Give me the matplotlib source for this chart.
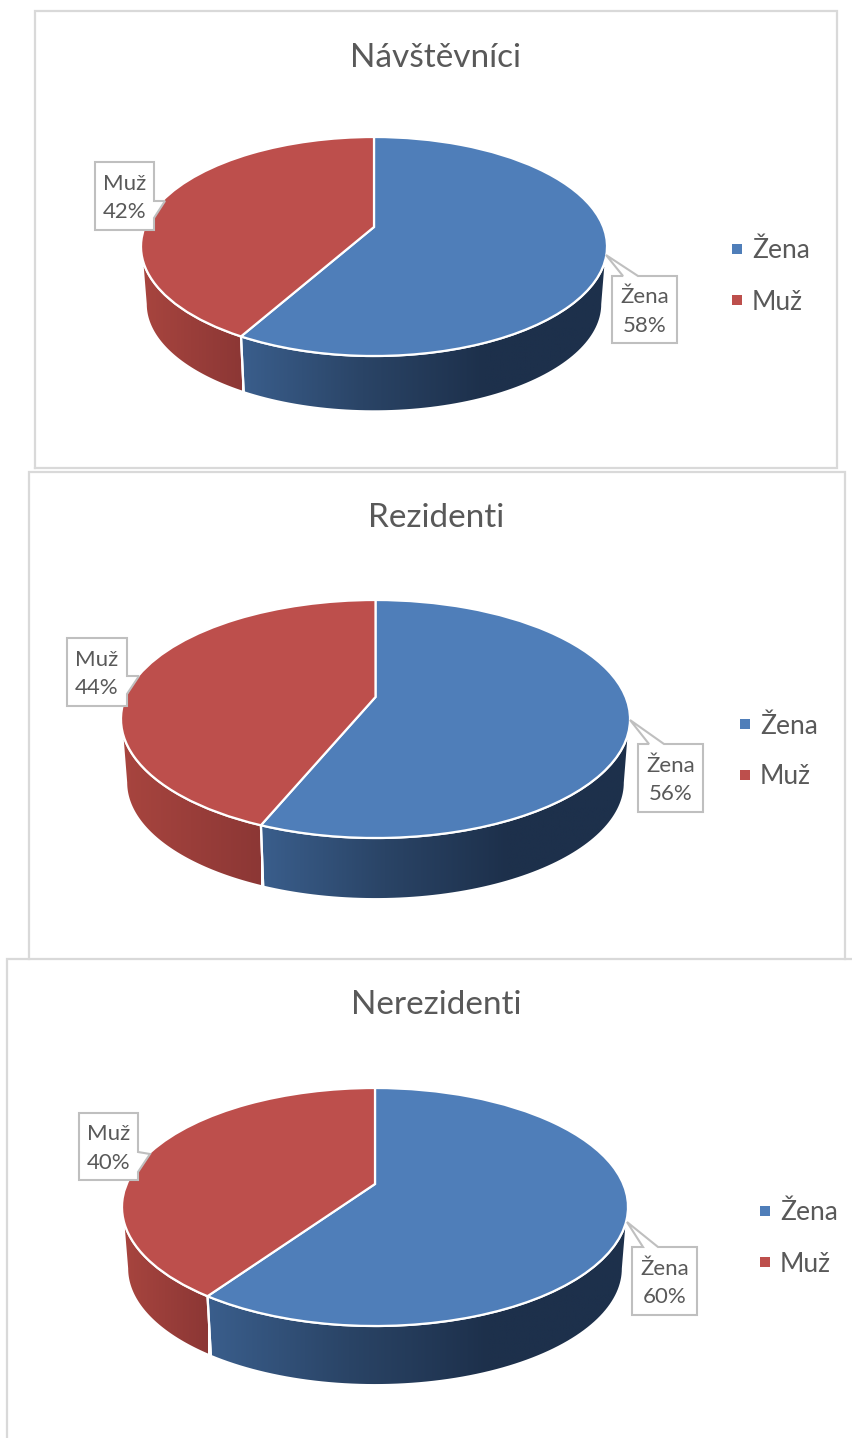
import numpy as np
import matplotlib
matplotlib.use('Agg')
import matplotlib.pyplot as plt
from matplotlib.colors import LinearSegmentedColormap
from matplotlib.patches import Polygon
from matplotlib.transforms import Transform

plt.rcParams['font.family'] = ['Lato', 'DejaVu Sans']

titles = ['Návštěvníci', 'Rezidenti', 'Nerezidenti']
categories = ['Žena', 'Muž']
# labels only show whole percents, the slice edges say a bit more
zena_shares = [58.15, 56.2, 59.6]
muz_shares = [41.85, 43.8, 40.4]

TEXT = '#595959'
FRAME = '#d9d9d9'
BLUE = '#4f7eb9'
RED = '#bd4f4c'

blue_side = LinearSegmentedColormap.from_list('blue_side', ['#3a5e8c', '#2a4466', '#1d304b', '#1d304b'])
red_side = LinearSegmentedColormap.from_list('red_side', ['#a8453f', '#8c3735'])

# layout of each chart, in pixels of the picture
layouts = [
	dict(cx=374, hub=227, top=137, bottom=356, half=233, wall=58, scale=0.98,
		title=(436, 58), legend=(737, 249, 300),
		muz_box=(95, 162, 154, 230), muz_tip=[(154, 201), (165, 201), (154, 218)],
		zena_box=(612, 276, 677, 343), zena_tip=[(623, 276), (606, 255), (638, 276)]),
	dict(cx=375.5, hub=697, top=600, bottom=838, half=254.5, wall=64, scale=0.98,
		title=(436, 518), legend=(745, 724, 775),
		muz_box=(67, 638, 127, 706), muz_tip=[(127, 676), (139, 676), (127, 694)],
		zena_box=(638, 744, 703, 812), zena_tip=[(649, 744), (630, 720), (664, 744)]),
	dict(cx=375, hub=1184, top=1088, bottom=1326, half=253, wall=62, scale=0.98,
		title=(436, 1005), legend=(765, 1211, 1262),
		muz_box=(79, 1113, 138, 1180), muz_tip=[(138, 1152), (150, 1154), (138, 1172)],
		zena_box=(632, 1247, 697, 1315), zena_tip=[(643, 1247), (627, 1222), (658, 1247)]),
]

frames = [
	[(35, 468), (35, 11), (837, 11), (837, 468), (35, 468)],
	[(29, 959), (29, 472), (845, 472), (845, 959)],
	[(7, 1438), (7, 959), (853, 959)],
]


class DiscPerspective(Transform):
	# unit circle seen at an angle: far side is shorter than near side
	input_dims = 2
	output_dims = 2

	def __init__(self, cx, cy, a, b, k):
		super().__init__()
		self.cx, self.cy, self.a, self.b, self.k = cx, cy, a, b, k

	def transform_non_affine(self, values):
		values = np.asarray(values, dtype=float)
		w = 1 + self.k * values[:, 1]
		return np.column_stack([self.cx + self.a * values[:, 0] / w, self.cy - self.b * values[:, 1] / w])


def side_wall(ax, near, far, lo, hi, cmap, x0, x1):
	angles = np.radians(np.linspace(lo, hi, 80))
	rim = np.column_stack([np.cos(angles), np.sin(angles)])
	verts = np.vstack([near.transform_non_affine(rim), far.transform_non_affine(rim)[::-1]])
	outline = Polygon(verts, closed=True, facecolor='none', edgecolor='white', linewidth=1.6, zorder=3)
	ax.add_patch(outline)
	img = ax.imshow(np.linspace(0, 1, 256)[None, :], extent=[x0, x1, verts[:, 1].max(), verts[:, 1].min()],
		cmap=cmap, aspect='auto', zorder=2)
	img.set_clip_path(Polygon(verts, closed=True, transform=ax.transData))


def callout(ax, box, tip, label):
	x0, y0, x1, y1 = box
	# walk round the box and splice the pointer in on the side it sits on
	if tip[0][1] == y0:
		verts = [(x0, y0)] + tip + [(x1, y0), (x1, y1), (x0, y1)]
	else:
		verts = [(x0, y0), (x1, y0)] + tip + [(x1, y1), (x0, y1)]
	ax.add_patch(Polygon(verts, closed=True, facecolor='white', edgecolor='#bfbfbf', linewidth=1.5, zorder=5))
	ax.text((x0 + x1) / 2, (y0 + y1) / 2 + 2, label, ha='center', va='center', fontsize=16,
		color=TEXT, linespacing=1.55, zorder=6)


fig = plt.figure(figsize=(8.53, 14.38), dpi=100)
ax = fig.add_axes([0, 0, 1, 1])

for i in range(3):
	lay = layouts[i]
	up = lay['hub'] - lay['top']
	down = lay['bottom'] - lay['hub']
	k = (down - up) / (down + up)
	b = up * (1 + k)
	a = lay['half'] * np.sqrt(1 - k ** 2)
	near = DiscPerspective(lay['cx'], lay['hub'], a, b, k)
	far = DiscPerspective(lay['cx'], lay['hub'] + lay['wall'], a * lay['scale'], b * lay['scale'], k)

	wedges, _ = ax.pie([zena_shares[i], muz_shares[i]], colors=[BLUE, RED], startangle=90, counterclock=False,
		wedgeprops=dict(edgecolor='white', linewidth=1.6, zorder=4))
	for w in wedges:
		w.set_transform(near + ax.transData)

	# only the part of the rim facing the viewer has a visible side
	edge = np.degrees(np.arcsin(k))
	zena, muz = wedges
	left = lay['cx'] - lay['half']
	right = lay['cx'] + lay['half']
	split = near.transform_non_affine(np.array([[np.cos(np.radians(zena.theta1)), np.sin(np.radians(zena.theta1))]]))[0, 0]
	side_wall(ax, near, far, zena.theta1, -edge, blue_side, split, right)
	side_wall(ax, near, far, -180 + edge, zena.theta1, red_side, left, split)

	ax.text(lay['title'][0], lay['title'][1], titles[i], ha='center', va='center', fontsize=24, color=TEXT)

	callout(ax, lay['muz_box'], lay['muz_tip'], f'{categories[1]}\n{muz_shares[i]:.0f}%')
	callout(ax, lay['zena_box'], lay['zena_tip'], f'{categories[0]}\n{zena_shares[i]:.0f}%')

	mx, y_zena, y_muz = lay['legend']
	for y, name, col in [(y_zena, categories[0], BLUE), (y_muz, categories[1], RED)]:
		ax.scatter([mx], [y], marker='s', s=62, color=col, linewidths=0, zorder=5)
		ax.text(mx + 15, y + 2, name, ha='left', va='center', fontsize=19, color=TEXT)

for pts in frames:
	xs, ys = zip(*pts)
	ax.plot(xs, ys, color=FRAME, linewidth=1.6, zorder=1, solid_joinstyle='miter')

ax.set_aspect('auto')
ax.set_xlim(0, 853)
ax.set_ylim(1438, 0)
ax.axis('off')

fig.savefig('out.png', dpi=100, facecolor='white')
